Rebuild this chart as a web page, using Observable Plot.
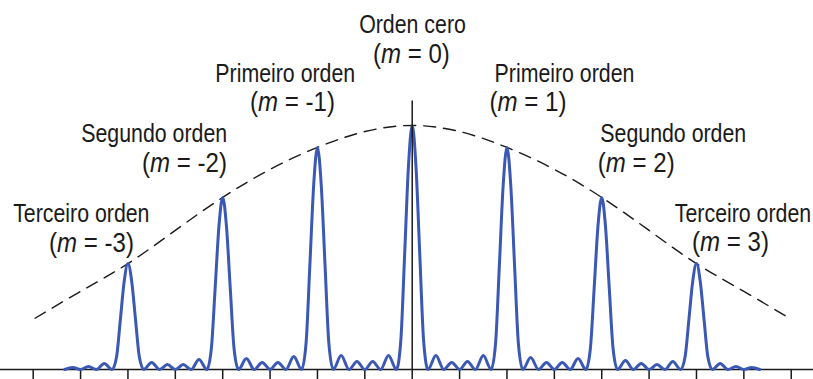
<!DOCTYPE html>
<html>
<head>
<meta charset="utf-8">
<script src="https://cdn.jsdelivr.net/npm/d3@7"></script>
<script src="https://cdn.jsdelivr.net/npm/@observablehq/plot@0.6"></script>
<style>
  html, body { margin: 0; padding: 0; background: #fff; }
  #chart svg { display: block; }
</style>
</head>
<body>
<div id="chart"></div>
<script>
// ---- Data ----
// Diffraction orders
const orders = [-3, -2, -1, 0, 1, 2, 3];
const peakIntensity = [0.434, 0.705, 0.91, 1.0, 0.91, 0.705, 0.434];

// Blue intensity curve: position (in units of order m) and relative intensity
const curveM = [
  -3.667, -3.583, -3.5, -3.417, -3.333, -3.25, -3.167,
  -3.12, -3.08, -3.04, -3, -2.96, -2.92, -2.88, -2.833,
  -2.75, -2.667, -2.583, -2.5, -2.417, -2.333, -2.25, -2.167,
  -2.12, -2.08, -2.04, -2, -1.96, -1.92, -1.88, -1.833,
  -1.75, -1.667, -1.583, -1.5, -1.417, -1.333, -1.25, -1.167,
  -1.12, -1.08, -1.04, -1, -0.96, -0.92, -0.88, -0.833,
  -0.75, -0.667, -0.583, -0.5, -0.417, -0.333, -0.25, -0.167,
  -0.12, -0.08, -0.04, 0, 0.04, 0.08, 0.12, 0.167,
  0.25, 0.333, 0.417, 0.5, 0.583, 0.667, 0.75, 0.833,
  0.88, 0.92, 0.96, 1, 1.04, 1.08, 1.12, 1.167,
  1.25, 1.333, 1.417, 1.5, 1.583, 1.667, 1.75, 1.833,
  1.88, 1.92, 1.96, 2, 2.04, 2.08, 2.12, 2.167,
  2.25, 2.333, 2.417, 2.5, 2.583, 2.667, 2.75, 2.833,
  2.88, 2.92, 2.96, 3, 3.04, 3.08, 3.12, 3.167,
  3.25, 3.333, 3.417, 3.5, 3.583, 3.667
];
const curveI = [
  0, 0.008, 0, 0.012, 0, 0.025, 0,
  0.052, 0.204, 0.36, 0.434, 0.36, 0.204, 0.052, 0,
  0.029, 0, 0.02, 0, 0.02, 0, 0.041, 0,
  0.085, 0.331, 0.585, 0.705, 0.585, 0.331, 0.085, 0,
  0.045, 0, 0.029, 0, 0.029, 0, 0.053, 0,
  0.109, 0.428, 0.755, 0.91, 0.755, 0.428, 0.109, 0,
  0.057, 0, 0.033, 0, 0.033, 0, 0.057, 0,
  0.12, 0.47, 0.83, 1.0, 0.83, 0.47, 0.12, 0,
  0.057, 0, 0.029, 0, 0.033, 0, 0.057, 0,
  0.109, 0.428, 0.755, 0.91, 0.755, 0.428, 0.109, 0,
  0.049, 0, 0.029, 0, 0.029, 0, 0.045, 0,
  0.085, 0.331, 0.585, 0.705, 0.585, 0.331, 0.085, 0,
  0.037, 0, 0.025, 0, 0.02, 0, 0.033, 0,
  0.052, 0.204, 0.36, 0.434, 0.36, 0.204, 0.052, 0,
  0.025, 0, 0.012, 0, 0.008, 0
];

// Dashed envelope
const envelopeM = [-3.98, -3.5, -3, -2.5, -2, -1.5, -1, -0.5, 0, 0.5, 1, 1.5, 2, 2.5, 3, 3.5, 3.98];
const envelopeI = [0.21, 0.32, 0.434, 0.57, 0.705, 0.82, 0.91, 0.975, 1.0, 0.975, 0.91, 0.82, 0.705, 0.57, 0.434, 0.32, 0.21];

// Axis ticks (no labels)
const tickValues = [-4, -3.5, -3, -2.5, -2, -1.5, -1, -0.5, 0, 0.5, 1, 1.5, 2, 2.5, 3, 3.5, 4];

// Annotation texts
const labelTitles = ["Terceiro orden", "Segundo orden", "Primeiro orden", "Orden cero", "Primeiro orden", "Segundo orden", "Terceiro orden"];
const labelOrders = ["-3", "-2", "-1", "0", "1", "2", "3"];

// ---- Annotation layout (data units: x in orders, y in relative intensity) ----
const titleX = [-3.492, -2.723, -1.340, 0.003, 1.607, 2.755, 3.491];
const titleY = [0.604, 0.932, 1.180, 1.380, 1.180, 0.932, 0.604];
const orderLabelX = [-3.384, -2.403, -1.263, -0.009, 1.222, 2.365, 3.359];
const orderLabelY = [0.482, 0.809, 1.059, 1.255, 1.059, 0.809, 0.484];
const centerLineTop = 1.1;

// ---- Build tables ----
const curve = curveM.map((m, i) => ({m, I: curveI[i]}));
const envelope = envelopeM.map((m, i) => ({m, I: envelopeI[i]}));
const titles = labelTitles.map((t, i) => ({text: t, x: titleX[i], y: titleY[i]}));
const orderLabels = labelOrders.map((o, i) => ({text: `(m = ${o})`, x: orderLabelX[i], y: orderLabelY[i]}));

const fontFamily = `"Liberation Sans", Arial, sans-serif`;
const ink = "#1a1a1a";
const yBottom = -0.041;
const narrowTitle = 0.805; // the reference uses a condensed sans
const narrowOrder = 0.86;

const chart = Plot.plot({
  width: 813,
  height: 379,
  margin: 0,
  x: {domain: [-4.345, 4.235], axis: null},
  y: {domain: [yBottom, 1.512], axis: null},
  style: {background: "#fff", fontFamily},
  marks: [
    Plot.ruleY([0], {stroke: ink, strokeWidth: 1.6}),
    Plot.ruleX(tickValues, {y1: 0, y2: yBottom, stroke: ink, strokeWidth: 1.5}),
    Plot.line(envelope, {x: "m", y: "I", curve: "natural", stroke: ink, strokeWidth: 1.4, strokeDasharray: "12,8"}),
    Plot.line(curve, {x: "m", y: "I", curve: "monotone-x", stroke: "#3a58b4", strokeWidth: 3, strokeLinejoin: "round"}),
    Plot.ruleX([0], {y1: 0, y2: centerLineTop, stroke: ink, strokeWidth: 1.5}),
    Plot.text(titles, {x: "x", y: "y", text: "text", textAnchor: "middle", lineAnchor: "bottom", fontSize: 26.5, fill: ink}),
    Plot.text(orderLabels, {x: "x", y: "y", text: "text", textAnchor: "middle", lineAnchor: "bottom", fontSize: 28, fill: ink})
  ]
});

const ns = "http://www.w3.org/2000/svg";
chart.querySelectorAll("text").forEach(t => {
  const match = /^\(m = (.+)\)$/.exec(t.textContent);
  // condense horizontally around the anchor point
  const tr = t.getAttribute("transform") || "";
  t.setAttribute("transform", `${tr} scale(${match ? narrowOrder : narrowTitle},1)`);
  if (!match) return;
  // italicize the variable m in "(m = k)"
  const target = t.querySelector("tspan") || t;
  while (target.firstChild) target.removeChild(target.firstChild);
  target.appendChild(document.createTextNode("("));
  const it = document.createElementNS(ns, "tspan");
  it.setAttribute("font-style", "italic");
  it.textContent = "m";
  target.appendChild(it);
  target.appendChild(document.createTextNode(` = ${match[1]})`));
});

document.getElementById("chart").appendChild(chart);
</script>
</body>
</html>
